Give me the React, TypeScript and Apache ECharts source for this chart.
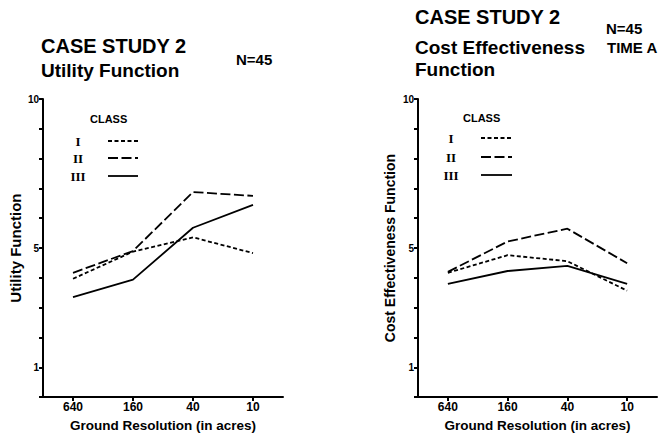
import React, { useEffect, useRef } from "react";
import * as echarts from "echarts";

const categories = ["640", "160", "40", "10"];
const yTickLabels = [1, 5, 10];

// Left panel: Utility Function
const utilityI = [3.97, 4.88, 5.36, 4.83];
const utilityII = [4.17, 4.9, 6.88, 6.75];
const utilityIII = [3.35, 3.94, 5.68, 6.45];

// Right panel: Cost Effectiveness Function
const costI = [4.17, 4.76, 4.56, 3.57];
const costII = [4.2, 5.22, 5.65, 4.49];
const costIII = [3.8, 4.23, 4.4, 3.8];

const classNames = ["I", "II", "III"];
const dashes: any[] = [[4, 2.5], [10, 3.5], "solid"];

const FONT = "Liberation Sans";
const INK = "#000";

export default function App() {
  const ref = useRef<HTMLDivElement>(null);
  useEffect(() => {
    if (!ref.current) return;
    const chart = echarts.init(ref.current, null, { renderer: "svg" });

    const xAxisBase = (gridIndex: number) => ({
      type: "category",
      gridIndex,
      data: categories,
      boundaryGap: true,
      axisLine: { show: true, lineStyle: { color: INK, width: 2 } },
      axisTick: { show: true, alignWithLabel: true, length: 4, lineStyle: { color: INK, width: 2 } },
      axisLabel: { color: INK, fontFamily: FONT, fontWeight: "bold", fontSize: 12, margin: 4 },
      name: "Ground Resolution (in acres)",
      nameLocation: "middle",
      nameGap: 19,
      nameTextStyle: { color: INK, fontFamily: FONT, fontWeight: "bold", fontSize: 13.5, verticalAlign: "top" },
      splitLine: { show: false },
    });

    const yAxisBase = (gridIndex: number, name: string, nameSize: number, gap: number) => ({
      type: "value",
      gridIndex,
      min: 0,
      max: 10,
      interval: 1,
      axisLine: { show: true, lineStyle: { color: INK, width: 2 } },
      axisTick: { show: true, length: 4, lineStyle: { color: INK, width: 2 } },
      axisLabel: {
        color: INK,
        fontFamily: FONT,
        fontWeight: "bold",
        fontSize: 10,
        margin: 4,
        formatter: (v: number) => (yTickLabels.includes(v) ? String(v) : ""),
      },
      splitLine: { show: false },
      name,
      nameLocation: "middle",
      nameRotate: 90,
      nameGap: gap,
      nameTextStyle: { color: INK, fontFamily: FONT, fontWeight: "bold", fontSize: nameSize },
    });

    const mkSeries = (data: number[], idx: number, axisIndex: number) => ({
      type: "line",
      name: classNames[idx],
      data,
      xAxisIndex: axisIndex,
      yAxisIndex: axisIndex,
      symbol: "none",
      lineStyle: { color: INK, width: 1.8, type: dashes[idx] },
    });

    const txt = (x: number, y: number, text: string, size: number, extra: any = {}) => ({
      type: "text",
      x,
      y,
      style: {
        text,
        fill: INK,
        fontFamily: FONT,
        fontWeight: "bold",
        fontSize: size,
        textVerticalAlign: "middle",
        ...extra,
      },
    });

    const legend = (cx: number, classX: number, lineX1: number, lineX2: number, ys: number[], classY: number) => {
      const els: any[] = [txt(classX, classY, "CLASS", 11)];
      ys.forEach((y, i) => {
        els.push({
          type: "text",
          x: cx,
          y,
          style: {
            text: classNames[i],
            fill: INK,
            fontFamily: "Liberation Serif",
            fontWeight: "bold",
            fontSize: 13,
            textAlign: "center",
            textVerticalAlign: "middle",
          },
        });
        els.push({
          type: "line",
          shape: { x1: lineX1, y1: y, x2: lineX2, y2: y },
          style: { stroke: INK, lineWidth: 1.8, lineDash: dashes[i] === "solid" ? null : dashes[i] },
        });
      });
      return els;
    };

    chart.setOption({
      animation: false,
      backgroundColor: "#fff",
      grid: [
        { left: 43, top: 99, width: 240, height: 305 },
        { left: 418, top: 99, width: 239, height: 304 },
      ],
      xAxis: [xAxisBase(0), xAxisBase(1)],
      yAxis: [
        yAxisBase(0, "Utility Function", 15, 20),
        yAxisBase(1, "Cost Effectiveness Function", 14, 21),
      ],
      series: [
        mkSeries(utilityI, 0, 0),
        mkSeries(utilityII, 1, 0),
        mkSeries(utilityIII, 2, 0),
        mkSeries(costI, 0, 1),
        mkSeries(costII, 1, 1),
        mkSeries(costIII, 2, 1),
      ],
      graphic: [
        txt(41, 46, "CASE STUDY 2", 20),
        txt(41, 70, "Utility Function", 19),
        txt(236, 59, "N=45", 15),
        txt(415, 17, "CASE STUDY 2", 20),
        txt(415, 47, "Cost Effectiveness", 19),
        txt(415, 69, "Function", 19),
        txt(606, 28, "N=45", 15),
        txt(607, 47, "TIME A", 15),
        ...legend(78, 90, 108, 138, [141, 158, 176], 119),
        ...legend(451, 463, 481, 512, [138, 157, 175], 118),
      ],
    });
    return () => chart.dispose();
  }, []);
  return (
    <div
      ref={ref}
      style={{ position: "fixed", left: 0, top: 0, width: 669, height: 437, background: "#fff" }}
    />
  );
}
